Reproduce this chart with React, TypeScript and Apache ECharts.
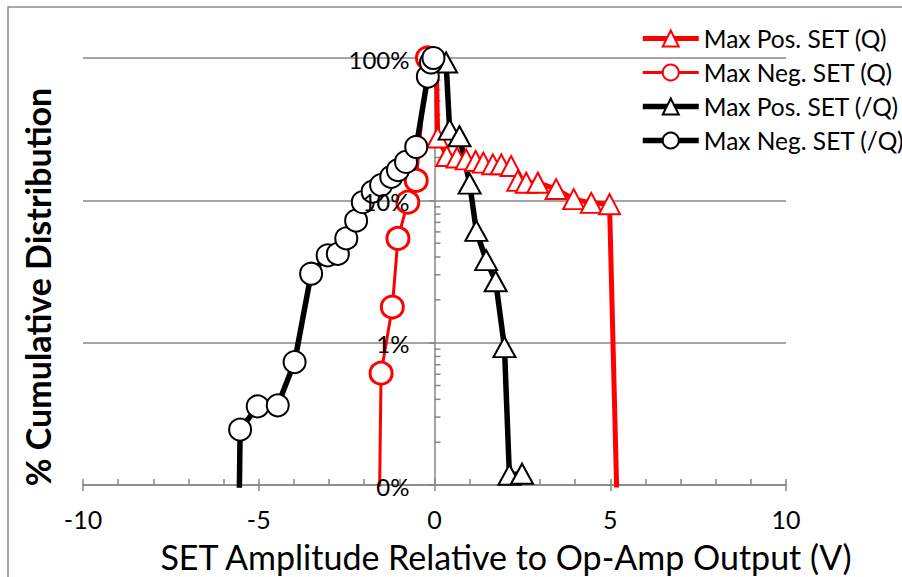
import React, { useEffect, useRef } from "react";
import * as echarts from "echarts";

// Cumulative SET amplitude distributions (x in volts, y in percent)
const POS_Q_X = [0.05, 0.09, 0.35, 0.64, 0.9, 1.17, 1.39, 1.66, 1.9, 2.18, 2.37, 2.61, 2.94, 3.46, 3.96, 4.46, 4.98, 5.21];
const POS_Q_Y = [98, 27.6, 20.5, 20.0, 19.4, 18.9, 18.4, 17.9, 17.9, 17.4, 13.7, 13.3, 13.3, 12.0, 10.2, 9.6, 9.4, 0.05];

const NEG_Q_X = [-1.575, -1.52, -1.2, -1.04, -0.76, -0.52, -0.2];
const NEG_Q_Y = [0.05, 0.61, 1.78, 5.4, 9.7, 13.8, 100];

const POS_NQ_X = [0.33, 0.43, 0.71, 1.0, 1.19, 1.47, 1.74, 1.99, 2.13, 2.49];
const POS_NQ_Y = [93, 31.4, 28.2, 13.1, 6.1, 3.8, 2.7, 0.93, 0.118, 0.12];

const NEG_NQ_X = [-5.566, -5.53, -5.03, -4.46, -3.98, -3.51, -3.04, -2.75, -2.51, -2.23, -2.04, -1.76, -1.52, -1.23, -1.04, -0.81, -0.52, -0.19, -0.1, -0.03];
const NEG_NQ_Y = [0.05, 0.245, 0.357, 0.363, 0.73, 3.05, 4.1, 4.2, 5.4, 7.2, 9.7, 11.5, 12.8, 14.6, 16.3, 18.6, 23.7, 74, 93, 100];

const SERIES_NAMES = ["Max Pos. SET (Q)", "Max Neg. SET (Q)", "Max Pos. SET (/Q)", "Max Neg. SET (/Q)"];
const SERIES_COLORS = ["#ff0000", "#ff0000", "#000000", "#000000"];
const SERIES_WIDTHS = [5, 3, 5.5, 5.5];

// Vertical axis: major values with their printed labels, and log-scale minor ticks (percent)
const Y_MAJOR_TICKS = [0.1, 1, 10, 100];
const Y_TICK_LABELS = ["0%", "1%", "10%", "100%"];
const Y_MINOR_TICKS = [0.2, 0.3, 0.4, 0.5, 0.6, 0.7, 0.8, 0.9, 2, 3, 4, 5, 6, 7, 8, 9, 20, 30, 40, 50, 60, 70, 80, 90];

const X_TITLE = "SET Amplitude Relative to Op-Amp Output (V)";
const Y_TITLE = "% Cumulative Distribution";

const FONT = "Lato, 'Open Sans', sans-serif";
const GRAY = "#868686";

const pair = (xs: number[], ys: number[]) => xs.map((x, i) => [x, ys[i]]);

function lineSeries(idx: number, xs: number[], ys: number[], symbol: string, size: any, border: number) {
  const color = SERIES_COLORS[idx];
  return {
    name: SERIES_NAMES[idx],
    type: "line",
    z: 2,
    data: pair(xs, ys),
    symbol,
    symbolSize: size,
    lineStyle: { color, width: SERIES_WIDTHS[idx] },
    itemStyle: { color: "#ffffff", borderColor: color, borderWidth: border },
    emphasis: { disabled: true },
    clip: true,
  };
}

export default function App() {
  const ref = useRef<HTMLDivElement>(null);

  useEffect(() => {
    document.body.style.margin = "0";
    const chart = echarts.init(ref.current!, null, { renderer: "svg" });
    const axisLineStyle = { color: GRAY, width: 1.5 };

    chart.setOption({
      animation: false,
      grid: { left: 83, right: 116, top: 58, bottom: 92, containLabel: false },
      legend: {
        orient: "vertical",
        left: 640,
        top: 26,
        padding: 0,
        itemWidth: 56,
        itemHeight: 20,
        itemGap: 9,
        selectedMode: false,
        data: SERIES_NAMES.map((name, i) => ({
          name,
          lineStyle: { color: SERIES_COLORS[i], width: SERIES_WIDTHS[i] },
        })),
        textStyle: { fontFamily: FONT, fontSize: 24.5, color: "#000", overflow: "none" },
      },
      xAxis: [
        {
          type: "value",
          min: -10,
          max: 10,
          interval: 5,
          axisLine: { onZero: false, lineStyle: axisLineStyle },
          axisTick: { show: true, inside: false, length: 6, lineStyle: axisLineStyle },
          axisLabel: { color: "#000", fontFamily: FONT, fontSize: 25, margin: 21 },
          splitLine: { show: false },
        },
        {
          type: "value",
          min: -10,
          max: 10,
          interval: 1,
          position: "bottom",
          axisLine: { show: false, onZero: false },
          axisTick: { show: true, inside: true, length: 6, lineStyle: axisLineStyle },
          axisLabel: { show: false },
          splitLine: { show: false },
        },
      ],
      yAxis: {
        type: "log",
        logBase: 10,
        min: 0.1,
        max: 100,
        axisLine: { show: true, onZero: true, onZeroAxisIndex: 0, lineStyle: axisLineStyle },
        axisTick: { show: true, length: 6, lineStyle: axisLineStyle },
        axisLabel: { show: false },
        splitLine: { show: true, lineStyle: { color: GRAY, width: 1.5 } },
      },
      graphic: [
        {
          type: "rect",
          silent: true,
          z: -10,
          shape: { x: 8, y: 7, width: 1400, height: 1400 },
          style: { fill: "none", stroke: "#8a8a8a", lineWidth: 1.5 },
        },
        {
          type: "text",
          x: 506,
          y: 556,
          silent: true,
          style: {
            text: X_TITLE,
            fontFamily: FONT,
            fontSize: 34,
            fill: "#000",
            align: "center",
            verticalAlign: "middle",
          },
        },
        {
          type: "text",
          x: 37,
          y: 287,
          rotation: Math.PI / 2,
          silent: true,
          style: {
            text: Y_TITLE,
            fontFamily: FONT,
            fontSize: 34,
            fontWeight: "bold",
            fill: "#000",
            align: "center",
            verticalAlign: "middle",
          },
        },
      ],
      series: [
        {
          // minor ticks on the right of the vertical axis at x = 0
          type: "custom",
          silent: true,
          z: 1,
          clip: false,
          data: Y_MINOR_TICKS.map((v) => [0, v]),
          encode: { x: 0, y: 1 },
          renderItem: (_params: any, api: any) => {
            const p = api.coord([api.value(0), api.value(1)]);
            return {
              type: "line",
              shape: { x1: p[0], y1: p[1], x2: p[0] + 6, y2: p[1] },
              style: { stroke: GRAY, lineWidth: 1.5 },
            };
          },
        },
        lineSeries(0, POS_Q_X, POS_Q_Y, "triangle", [21, 20], 2),
        lineSeries(1, NEG_Q_X, NEG_Q_Y, "circle", 22, 3),
        lineSeries(2, POS_NQ_X, POS_NQ_Y, "triangle", [22, 20], 2),
        lineSeries(3, NEG_NQ_X, NEG_NQ_Y, "circle", 22, 2),
        {
          // percent labels sitting beside the vertical axis at x = 0
          type: "custom",
          silent: true,
          z: 10,
          clip: false,
          data: Y_MAJOR_TICKS.map((v, i) => [0, v, i]),
          encode: { x: 0, y: 1 },
          renderItem: (_params: any, api: any) => {
            const p = api.coord([api.value(0), api.value(1)]);
            return {
              type: "text",
              x: p[0] - 25,
              y: p[1] + 1,
              style: {
                text: Y_TICK_LABELS[api.value(2)],
                fontFamily: FONT,
                fontSize: 24,
                fill: "#000",
                align: "right",
                verticalAlign: "middle",
              },
            };
          },
        },
      ],
    });

    return () => chart.dispose();
  }, []);

  return <div ref={ref} style={{ width: 902, height: 577 }} />;
}
